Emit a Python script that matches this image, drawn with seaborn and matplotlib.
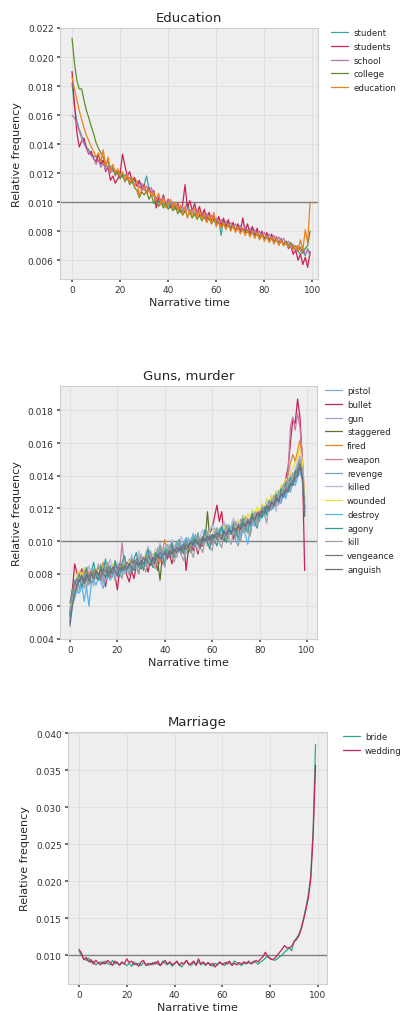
import matplotlib
matplotlib.use("Agg")
import matplotlib.pyplot as plt
import numpy as np
import pandas as pd
import seaborn as sns

# ---------------- data (relative frequency, in units of 1e-4) ----------------
narrative_time = list(range(100))
UNIT = 1e-4

edu_words = ["student", "students", "school", "college", "education"]
edu_student = [182,166,156,150,146,141,138,136,133,131,
               132,128,130,126,127,123,125,121,122,119,
               121,117,119,116,117,113,115,112,114,110,
               112,118,109,107,105,103,100,102,98,100,
               97,99,96,98,95,97,94,96,100,93,
               95,92,94,91,93,90,92,89,91,88,
               86,89,77,88,84,86,82,85,81,83,
               80,82,79,81,78,83,77,79,76,78,
               75,77,74,76,73,75,72,74,71,73,
               70,72,69,67,66,64,66,63,68,64]
edu_students = [190,168,148,138,142,144,137,133,135,130,
                128,133,126,129,121,124,115,118,113,116,
                120,133,125,118,121,114,117,111,115,108,
                112,106,110,104,108,96,103,99,105,98,
                102,96,100,95,99,93,98,112,96,101,
                94,99,92,97,90,95,88,93,87,91,
                85,90,84,89,82,88,81,86,80,85,
                79,89,80,85,78,83,76,82,75,80,
                74,79,73,78,72,76,71,75,70,73,
                68,70,64,67,60,64,57,62,55,66]
edu_school = [160,158,154,149,144,140,137,134,132,130,
              126,129,124,127,122,125,120,123,118,121,
              117,120,115,118,113,116,112,114,110,113,
              108,111,107,110,104,102,105,100,103,99,
              101,97,100,95,98,94,97,93,96,92,
              95,91,94,90,93,89,92,88,91,87,
              89,85,88,84,87,83,86,82,85,81,
              84,80,83,79,82,78,81,77,80,76,
              79,75,78,74,77,73,76,72,75,71,
              73,69,71,67,70,66,68,64,67,63]
edu_college = [213,196,184,178,178,170,163,158,152,147,
               141,137,134,131,126,128,122,124,119,121,
               116,119,114,117,112,115,110,108,103,107,
               105,108,102,105,99,102,97,100,96,99,
               95,98,94,97,92,95,91,94,90,93,
               89,92,88,91,87,90,86,89,85,88,
               84,87,83,86,82,85,81,84,80,83,
               79,82,78,81,77,80,76,79,75,78,
               74,77,73,76,72,75,71,74,70,73,
               69,72,68,70,67,69,65,68,70,80]
edu_education = [186,178,171,163,157,151,146,142,138,135,
                 131,134,128,136,124,131,122,126,120,123,
                 118,121,115,119,113,117,110,115,104,109,
                 111,106,109,104,107,101,106,98,103,96,
                 99,102,96,100,94,98,92,97,89,95,
                 91,96,89,94,88,92,86,91,85,93,
                 83,88,82,86,81,85,80,84,79,83,
                 78,82,77,81,76,80,75,79,74,78,
                 73,77,72,76,71,75,70,74,70,72,
                 69,71,67,70,66,74,67,81,72,100]

gun_words = ["pistol", "bullet", "gun", "staggered", "fired", "weapon", "revenge",
             "killed", "wounded", "destroy", "agony", "kill", "vengeance", "anguish"]
gun_pistol = [58,67,74,73,80,76,79,75,81,77,
              83,78,81,79,84,80,82,85,80,84,
              81,85,82,86,83,87,84,85,88,86,
              89,86,90,87,91,88,92,89,93,90,
              94,91,95,92,96,93,97,94,98,95,
              99,96,100,97,101,98,102,99,103,100,
              104,101,105,102,106,103,107,104,109,105,
              110,106,111,108,112,109,114,111,116,113,
              118,115,120,117,122,119,124,121,127,124,
              130,127,134,131,139,136,143,146,142,121]
gun_bullet = [56,70,86,80,78,83,76,80,74,79,
              82,77,80,76,79,72,81,78,83,79,
              70,84,81,86,79,75,82,77,85,80,
              88,83,86,81,90,84,88,82,91,86,
              94,89,92,86,95,90,97,92,99,82,
              96,100,94,98,92,101,97,103,99,105,
              108,115,122,112,118,104,110,103,108,101,
              110,105,113,107,111,106,104,112,117,113,
              119,115,121,117,123,120,125,122,129,126,
              132,138,145,160,175,172,187,176,150,82]
gun_gun = [60,64,70,74,72,78,75,80,77,79,
           76,81,78,82,79,77,83,80,84,81,
           85,82,80,84,87,83,86,88,84,89,
           85,90,87,91,86,92,89,93,88,95,
           90,96,92,94,97,91,98,95,93,99,
           96,101,97,100,95,102,99,103,97,104,
           100,99,103,106,101,105,107,102,108,104,
           109,105,110,112,107,113,110,115,112,117,
           114,119,116,121,118,124,120,126,122,129,
           127,133,130,137,136,142,146,150,138,119]
gun_staggered = [50,63,70,74,77,75,79,76,78,74,
                 79,82,78,81,77,83,80,82,79,84,
                 82,80,85,83,87,81,86,84,88,85,
                 83,88,86,90,87,85,91,88,76,92,
                 89,94,91,96,93,92,97,94,99,96,
                 93,98,100,97,101,99,103,100,118,101,
                 98,104,101,106,103,100,107,104,109,106,
                 103,109,111,108,113,110,114,112,116,114,
                 117,115,120,118,123,121,126,124,128,127,
                 131,129,136,134,139,137,145,152,146,120]
gun_fired = [57,69,75,78,76,81,78,83,80,79,
             82,80,84,81,87,83,80,85,82,86,
             83,81,86,84,82,87,85,88,86,89,
             87,90,88,86,91,89,93,90,87,94,
             101,93,95,92,97,94,99,96,93,98,
             95,100,97,102,99,96,101,104,100,98,
             103,100,105,102,107,104,101,106,108,105,
             110,107,112,109,106,111,114,111,116,113,
             118,116,120,117,124,121,127,123,130,127,
             133,130,141,148,153,149,155,162,150,125]
gun_weapon = [53,67,73,77,81,76,79,82,75,80,
              78,82,79,84,80,78,85,81,83,80,
              86,83,99,84,87,85,89,86,84,88,
              91,88,86,90,93,89,87,92,95,90,
              93,97,94,91,96,99,95,93,98,101,
              97,94,100,103,98,96,101,99,104,101,
              98,103,106,100,105,108,103,107,104,109,
              106,111,108,105,110,114,109,116,113,118,
              115,120,117,122,119,125,122,128,125,131,
              129,135,142,170,176,168,178,170,152,126]
gun_revenge = [55,62,68,75,70,77,71,79,73,80,
               74,81,76,83,75,84,77,85,78,86,
               79,87,80,84,81,89,82,86,83,91,
               84,88,85,93,86,90,88,96,89,93,
               90,98,91,95,92,100,93,97,94,102,
               96,99,97,104,98,101,99,106,100,103,
               101,108,102,105,103,110,104,107,105,112,
               100,97,105,113,107,111,109,117,111,115,
               113,121,116,120,119,127,122,126,125,133,
               129,136,133,140,137,144,140,146,141,116]
gun_killed = [59,66,74,68,77,81,73,79,85,77,
              72,82,78,86,80,75,84,89,81,78,
              87,82,79,90,85,81,92,86,83,94,
              88,84,93,97,89,86,95,91,99,93,
              88,97,93,101,95,90,99,103,96,92,
              101,97,105,99,94,103,107,100,97,106,
              110,102,99,108,104,112,106,101,110,114,
              107,103,112,116,109,106,115,119,112,108,
              117,122,115,125,120,128,123,118,130,126,
              134,129,137,142,136,144,148,152,145,122]
gun_wounded = [58,68,73,79,82,77,84,79,76,81,
               78,83,80,85,82,79,84,81,86,83,
               80,85,82,87,84,88,85,83,89,86,
               90,87,92,89,86,91,94,90,93,91,
               95,92,97,94,91,96,99,95,98,96,
               100,97,102,99,104,101,98,103,100,105,
               102,107,104,101,106,109,105,108,106,111,
               108,113,110,115,112,117,114,119,116,121,
               118,123,121,126,123,128,126,131,129,134,
               133,138,137,142,145,148,151,157,149,124]
gun_destroy = [52,61,65,70,68,73,63,72,60,74,
               76,73,78,75,71,77,80,76,79,82,
               78,81,84,80,83,86,82,85,88,84,
               87,90,86,89,92,88,91,94,90,93,
               96,92,95,98,94,97,100,96,99,102,
               98,101,104,100,103,97,102,106,99,104,
               101,105,108,104,107,103,106,110,105,109,
               106,100,103,108,104,98,107,111,109,114,
               112,117,115,120,118,123,121,126,124,123,
               128,126,132,130,136,134,139,142,138,117]
gun_agony = [54,66,76,71,80,72,78,84,75,81,
             87,79,76,85,81,89,78,84,80,88,
             83,78,87,91,82,86,80,89,93,84,
             88,82,91,95,87,84,93,89,97,90,
             86,95,92,99,90,94,101,96,92,100,
             97,93,102,98,105,96,100,107,99,95,
             104,100,97,106,109,102,99,108,104,111,
             106,102,110,114,108,105,113,117,111,108,
             118,114,121,116,125,119,123,129,124,132,
             128,136,131,139,135,143,140,148,144,121]
gun_kill = [57,64,72,69,78,74,82,71,79,83,
            76,80,86,78,74,83,87,79,82,76,
            85,81,77,88,84,79,90,83,86,80,
            92,85,81,89,94,86,83,91,96,88,
            84,93,98,90,87,95,100,91,88,97,
            102,94,90,99,104,96,93,101,106,97,
            94,103,108,99,96,105,110,101,98,107,
            112,104,100,109,115,106,103,113,118,109,
            114,121,117,111,124,119,128,122,131,125,
            135,129,138,133,142,137,146,150,144,120]
gun_vengeance = [62,70,74,77,75,79,76,80,78,81,
                 79,82,80,78,83,81,84,82,80,85,
                 83,86,84,82,87,85,88,86,89,87,
                 85,90,88,91,89,87,92,90,93,91,
                 94,92,90,95,93,96,94,97,95,98,
                 96,99,97,100,98,101,99,102,100,103,
                 101,104,102,105,103,106,104,107,105,108,
                 106,110,108,111,109,113,111,115,113,117,
                 115,119,117,122,120,124,122,127,125,129,
                 128,132,131,135,137,141,143,147,140,118]
gun_anguish = [48,60,68,73,76,78,74,79,76,80,
               77,81,79,83,80,78,82,80,84,82,
               79,84,82,85,83,86,84,82,87,85,
               88,86,89,87,85,90,88,92,89,91,
               93,90,94,92,95,93,96,94,98,95,
               97,100,98,101,99,96,102,100,103,101,
               104,102,105,103,101,106,104,107,105,108,
               106,109,107,111,109,112,110,115,113,117,
               115,119,117,121,119,124,122,126,124,129,
               127,131,130,135,134,139,140,145,139,115]

mar_words = ["bride", "wedding"]
mar_bride = [106,100,95,93,96,90,92,87,89,91,
             88,92,89,87,93,88,91,86,90,88,
             86,89,85,91,87,89,86,90,88,86,
             89,87,91,88,86,92,89,87,90,85,
             88,91,87,84,89,93,88,86,90,88,
             91,87,89,86,90,88,85,89,87,90,
             88,86,91,89,87,92,90,88,86,89,
             88,90,89,92,90,88,91,93,96,99,
             96,94,93,95,98,100,104,107,110,106,
             119,123,128,137,150,165,182,208,270,385]
mar_wedding = [108,103,94,97,91,94,88,93,90,87,
               91,88,93,90,86,92,89,87,91,88,
               95,90,92,87,89,85,91,93,86,89,
               87,90,88,92,86,89,93,88,91,87,
               89,92,86,90,88,93,87,89,92,86,
               95,88,91,87,90,86,89,84,88,91,
               87,90,88,92,86,89,87,90,88,91,
               89,92,88,90,93,91,95,98,104,98,
               95,94,96,100,104,108,113,110,110,112,
               118,121,126,135,148,162,178,203,262,357]

edu_series = [edu_student, edu_students, edu_school, edu_college, edu_education]
gun_series = [gun_pistol, gun_bullet, gun_gun, gun_staggered, gun_fired, gun_weapon,
              gun_revenge, gun_killed, gun_wounded, gun_destroy, gun_agony, gun_kill,
              gun_vengeance, gun_anguish]
mar_series = [mar_bride, mar_wedding]

edu_colors = ["#3aa7a0", "#c8234f", "#b676b6", "#5f8f2a", "#f07f1e"]
gun_colors = ["#7fb0c8", "#c8234f", "#aaa0d2", "#56742f", "#e8862a", "#c77aa8", "#7fa6bd",
              "#b8b8d8", "#e8e040", "#56b4e9", "#2e9b94", "#a0a0a0", "#7a7a88", "#6a6e80"]
mar_colors = ["#2aa594", "#c8234f"]


def long_frame(words, series):
    rows_t, rows_v, rows_w = [], [], []
    for w, s in zip(words, series):
        rows_t += narrative_time
        rows_v += [v * UNIT for v in s]
        rows_w += [w] * len(s)
    return pd.DataFrame({"Narrative time": rows_t, "Relative frequency": rows_v, "word": rows_w})


sns.set_theme(style="whitegrid")
plt.rcParams.update({
    "axes.facecolor": "#eeeeee",
    "figure.facecolor": "white",
    "axes.edgecolor": "#cfcfcf",
    "axes.linewidth": 0.8,
    "grid.color": "#dadada",
    "grid.linewidth": 0.5,
    "xtick.bottom": True,
    "ytick.left": True,
    "xtick.major.size": 2.5,
    "ytick.major.size": 2.5,
    "xtick.color": "#555555",
    "ytick.color": "#555555",
    "xtick.labelcolor": "#333333",
    "ytick.labelcolor": "#333333",
    "font.family": ["DejaVu Sans"],
})

fig = plt.figure(figsize=(4.03, 10.12), dpi=100)

panels = [
    ("Education", edu_words, edu_series, edu_colors,
     [60 / 403, 732 / 1012, 258 / 403, 251 / 1012], (-5.0, 102.3), (0.0047, 0.0220),
     np.arange(0.006, 0.0221, 0.002), 1.02),
    ("Guns, murder", gun_words, gun_series, gun_colors,
     [60 / 403, 372 / 1012, 257 / 403, 253 / 1012], (-4.2, 104.2), (0.0040, 0.0195),
     np.arange(0.004, 0.0181, 0.002), 1.0),
    ("Marriage", mar_words, mar_series, mar_colors,
     [68 / 403, 27 / 1012, 259 / 403, 252 / 1012], (-4.6, 103.8), (0.0061, 0.0402),
     np.arange(0.010, 0.0401, 0.005), 1.03),
]

for title, words, series, colors, rect, xlim, ylim, yticks, lx in panels:
    ax = fig.add_axes(rect)
    df = long_frame(words, series)
    sns.lineplot(data=df, x="Narrative time", y="Relative frequency", hue="word",
                 hue_order=words, palette=colors, linewidth=0.9, errorbar=None,
                 ax=ax, zorder=3)
    ax.axhline(0.010, color="#808080", linewidth=1.0, zorder=2.5)
    ax.set_xlim(*xlim)
    ax.set_ylim(*ylim)
    ax.set_xticks([0, 20, 40, 60, 80, 100])
    ax.set_yticks(yticks)
    ax.set_yticklabels(["{:.3f}".format(v) for v in yticks])
    ax.tick_params(labelsize=6.5, pad=2)
    ax.set_title(title, fontsize=9.5, pad=5)
    ax.set_xlabel("Narrative time", fontsize=8, labelpad=2)
    ax.set_ylabel("Relative frequency", fontsize=8, labelpad=4)
    ax.legend(loc="upper left", bbox_to_anchor=(lx, 1.03), frameon=False,
              fontsize=6.2, handlelength=2.0, handletextpad=0.6,
              labelspacing=0.55, borderaxespad=0.5)

fig.savefig("out.png", dpi=100)
